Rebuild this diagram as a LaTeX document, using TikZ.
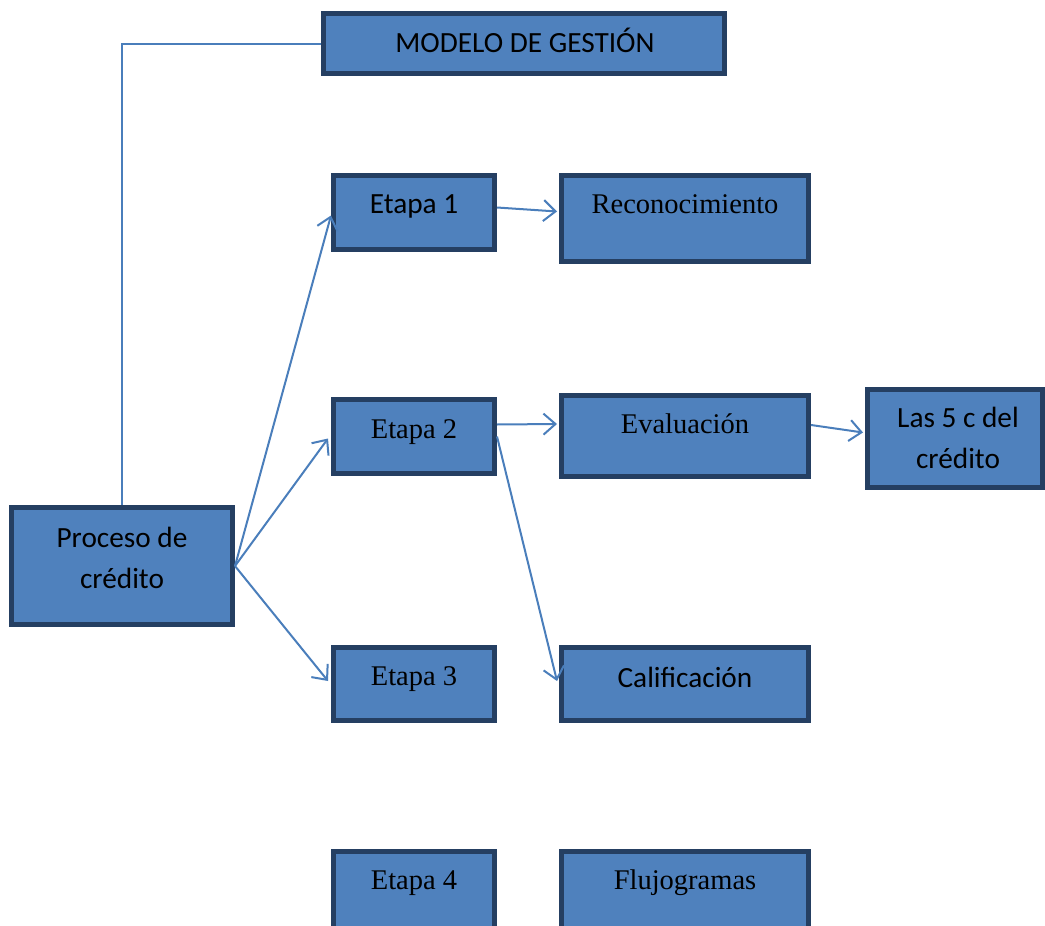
\documentclass[tikz,border=0pt]{standalone}
\usepackage{fontspec}
\setmainfont{Liberation Serif}
\newfontfamily\carlito{Carlito}
\usetikzlibrary{arrows.meta,calc}
\definecolor{boxfill}{HTML}{4F81BD}
\definecolor{boxline}{HTML}{253F62}
\definecolor{linec}{HTML}{4A7EBB}
\tikzset{
  box/.style={rectangle,draw=boxline,fill=boxfill,line width=5pt,inner sep=0pt},
  lbl/.style={anchor=base,inner sep=0pt,font=\fontsize{28.5}{34}\selectfont},
  lbls/.style={anchor=base,inner sep=0pt,font=\fontsize{29.3}{35}\selectfont\carlito},
  conn/.style={draw=linec,line width=2pt},
  arr/.style={conn,-{Straight Barb[length=12pt,width=21pt,line width=2pt]}}
}
\begin{document}
\begin{tikzpicture}[x=1pt,y=-1pt]
\clip (0,0) rectangle (1045,926);
\useasboundingbox (0,0) rectangle (1045,926);
% boxes (outer size minus line width)
\node[box,minimum width=401pt,minimum height=60pt] (modelo) at (524,43.5) {};
\node[box,minimum width=161pt,minimum height=74pt] (e1) at (414,212.5) {};
\node[box,minimum width=247pt,minimum height=86pt] (rec) at (685,218.5) {};
\node[box,minimum width=161pt,minimum height=74pt] (e2) at (414,436.5) {};
\node[box,minimum width=247pt,minimum height=81pt] (eva) at (685,436) {};
\node[box,minimum width=175pt,minimum height=98pt] (c5) at (955,438.5) {};
\node[box,minimum width=221pt,minimum height=117pt] (proc) at (122,566) {};
\node[box,minimum width=161pt,minimum height=73pt] (e3) at (414,684) {};
\node[box,minimum width=247pt,minimum height=73pt] (cal) at (685,684) {};
\node[box,minimum width=161pt,minimum height=91pt] (e4) at (414,897) {};
\node[box,minimum width=247pt,minimum height=91pt] (flu) at (685,897) {};
% texts
\node[lbls] (tmodelo) at (525,52) {MODELO DE GESTIÓN};
\node[lbls] (te1) at (414,213) {Etapa 1};
\node[lbl] (trec) at (685,213) {Reconocimiento};
\node[lbl] (te2) at (414,438) {Etapa 2};
\node[lbl] (teva) at (685,433) {Evaluación};
\node[lbls] (tc5a) at (958,427) {Las 5 c del};
\node[lbls] (tc5b) at (958,468) {crédito};
\node[lbls] (tproca) at (122,547) {Proceso de};
\node[lbls] (tprocb) at (122,588) {crédito};
\node[lbl] (te3) at (414,685) {Etapa 3};
\node[lbls] (tcal) at (685,687) {Calificación};
\node[lbl] (te4) at (414,889) {Etapa 4};
\node[lbl] (tflu) at (685,889) {Flujogramas};
% connectors
\draw[conn] (proc.north) |- (modelo.west);
\draw[arr] (proc.east) -- ($(e1.west)+(0,3)$);
\draw[arr] (proc.east) -- ($(e2.west)+(-3,2)$);
\draw[arr] (proc.east) -- ($(e3.west)+(-3,-3)$);
\draw[arr] ($(e1.east)+(0,-5)$) -- ($(rec.west)+(-2,-7)$);
\draw[arr] ($(e2.east)+(0,-12)$) -- ($(eva.west)+(-2,-12)$);
\draw[arr] (e2.east) -- ($(cal.west)+(-2,-3)$);
\draw[arr] ($(eva.east)+(0,-11)$) -- ($(c5.west)+(-2,-6)$);
\end{tikzpicture}
\end{document}
